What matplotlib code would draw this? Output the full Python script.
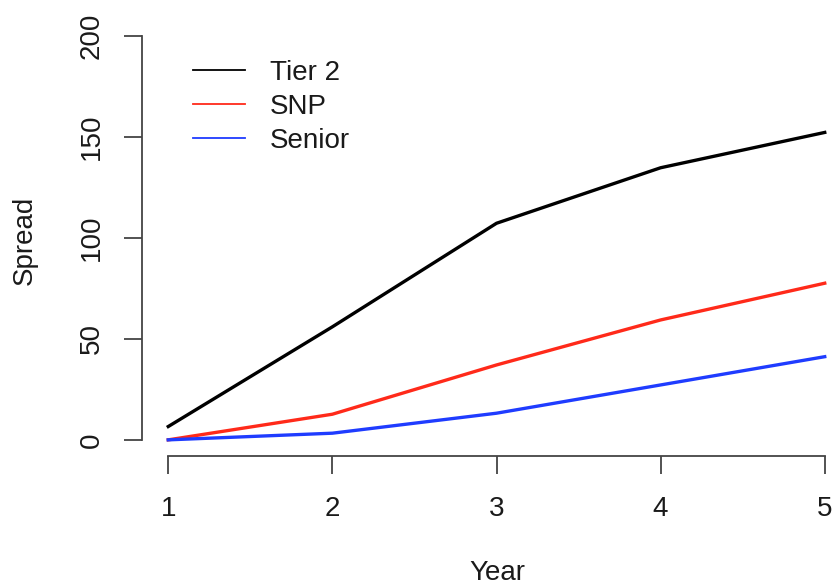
import matplotlib
matplotlib.use('Agg')
import matplotlib.pyplot as plt

plt.rcParams['font.family'] = ['Liberation Sans', 'DejaVu Sans']

years = [1, 2, 3, 4, 5]
tier2 = [6.6, 56, 107.3, 134.8, 152.3]
snp = [0, 12.7, 37.1, 59.4, 77.6]
senior = [0, 3.3, 13.2, 27.2, 41.2]

W, H = 834, 587
fig = plt.figure(figsize=(W / 100, H / 100), dpi=100)
# plot region like R: 4% padding round data range, right side cut by the picture
ax = fig.add_axes([142 / W, (H - 456) / H, 709 / W, 436 / H])

ax.plot(years, tier2, color='black', lw=2.4, label='Tier 2')
ax.plot(years, snp, color='#ff2a1a', lw=2.4, label='SNP')
ax.plot(years, senior, color='#1f3cff', lw=2.4, label='Senior')

ax.set_xlim(0.84, 5.16)
ax.set_ylim(-8, 208)
ax.set_xticks(years)
ax.set_yticks([0, 50, 100, 150, 200])

for s in ['top', 'right']:
    ax.spines[s].set_visible(False)
ax.spines['bottom'].set_bounds(1, 5)
ax.spines['left'].set_bounds(0, 200)
for s in ['bottom', 'left']:
    ax.spines[s].set_color('#444444')
    ax.spines[s].set_linewidth(1.3)

ax.tick_params(axis='both', direction='out', length=13, width=1.3, color='#444444',
               labelsize=20, labelcolor='#1a1a1a')
ax.tick_params(axis='x', pad=16)
ax.tick_params(axis='y', pad=14)
for lab in ax.get_yticklabels():
    lab.set_rotation(90)
    lab.set_va('center')

fig.text(25 / W, 1 - 240 / H, 'Spread', rotation=90, ha='center', va='center',
         fontsize=20, color='#1a1a1a')
fig.text(497 / W, 1 - 573 / H, 'Year', ha='center', va='center',
         fontsize=20, color='#1a1a1a')

leg = ax.legend(loc='upper left', bbox_to_anchor=(193 / W, 1 - 60 / H),
                bbox_transform=fig.transFigure, frameon=False, fontsize=20,
                borderpad=0, borderaxespad=0, labelspacing=0.29,
                handlelength=1.87, handletextpad=0.9)
for ln in leg.get_lines():
    ln.set_linewidth(1.3)
for t in leg.get_texts():
    t.set_color('#1a1a1a')

fig.savefig('out.png', dpi=100)
